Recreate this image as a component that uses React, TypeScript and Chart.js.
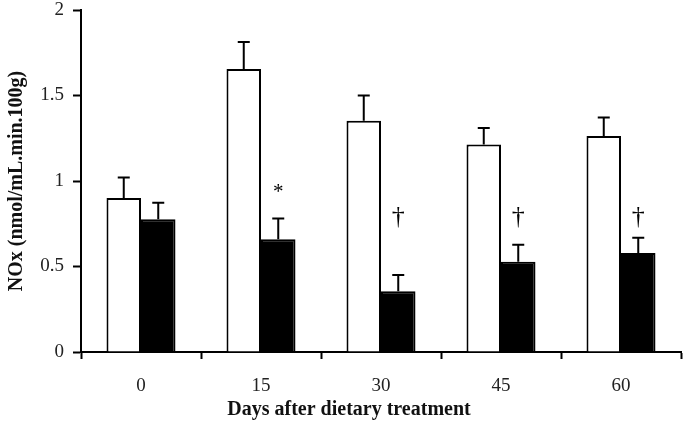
import React, { useEffect, useRef } from "react";
import { Chart, registerables } from "chart.js";

Chart.register(...registerables);

const categories = ["0", "15", "30", "45", "60"];
const controlValues = [0.9, 1.655, 1.353, 1.213, 1.263];
const controlErrors = [0.12, 0.158, 0.147, 0.097, 0.109];
const treatedValues = [0.776, 0.659, 0.355, 0.528, 0.579];
const treatedErrors = [0.097, 0.121, 0.095, 0.099, 0.089];
const treatedMarks = ["", "*", "†", "†", "†"];
const markLevels = [0, 0.93, 0.79, 0.79, 0.79];
const yTicks = [0, 0.5, 1, 1.5, 2];

const yTitle = "NOx (nmol/mL.min.100g)";
const xTitle = "Days after dietary treatment";

const errors = [controlErrors, treatedErrors];
const SERIF = "'Liberation Serif', 'Times New Roman', serif";

const errorBarPlugin = {
  id: "errorBars",
  afterDatasetsDraw(chart: any) {
    const ctx = chart.ctx;
    const y = chart.scales.y;
    ctx.save();
    ctx.strokeStyle = "#000";
    ctx.lineWidth = 2;
    chart.data.datasets.forEach((ds: any, di: number) => {
      const meta = chart.getDatasetMeta(di);
      meta.data.forEach((bar: any, i: number) => {
        const top = y.getPixelForValue(ds.data[i] + errors[di][i]);
        ctx.beginPath();
        ctx.moveTo(bar.x, bar.y);
        ctx.lineTo(bar.x, top);
        ctx.moveTo(bar.x - 6, top);
        ctx.lineTo(bar.x + 6, top);
        ctx.stroke();
      });
    });
    const meta = chart.getDatasetMeta(1);
    ctx.fillStyle = "#000";
    ctx.textAlign = "center";
    ctx.textBaseline = "middle";
    meta.data.forEach((bar: any, i: number) => {
      const mark = treatedMarks[i];
      if (!mark) return;
      ctx.font = `${mark === "*" ? 21 : 26}px ${SERIF}`;
      ctx.fillText(mark, bar.x, y.getPixelForValue(markLevels[i]));
    });
    ctx.restore();
  },
};

const titlePlugin = {
  id: "axisTitles",
  afterDraw(chart: any) {
    const { ctx, chartArea } = chart;
    ctx.save();
    ctx.fillStyle = "#111";
    ctx.font = `bold 20px ${SERIF}`;
    ctx.textAlign = "center";
    ctx.textBaseline = "middle";
    ctx.fillText(xTitle, (chartArea.left + chartArea.right) / 2 - 32, chartArea.bottom + 58);
    ctx.translate(17, (chartArea.top + chartArea.bottom) / 2);
    ctx.rotate(-Math.PI / 2);
    ctx.fillText(yTitle, 0, 0);
    ctx.restore();
  },
};

export default function App() {
  const ref = useRef<HTMLCanvasElement | null>(null);
  useEffect(() => {
    if (!ref.current) return;
    const chart = new Chart(ref.current, {
      type: "bar",
      data: {
        labels: categories,
        datasets: [
          {
            label: "Control",
            data: controlValues,
            backgroundColor: "#ffffff",
            borderColor: "#000000",
            borderWidth: 2,
            categoryPercentage: 0.575,
            barPercentage: 1,
          },
          {
            label: "Treated",
            data: treatedValues,
            backgroundColor: "#000000",
            borderColor: "#000000",
            borderWidth: 2,
            categoryPercentage: 0.575,
            barPercentage: 1,
          },
        ],
      },
      options: {
        animation: false,
        responsive: true,
        maintainAspectRatio: false,
        layout: { padding: { top: 10, right: 4, left: 0, bottom: 0 } },
        plugins: {
          legend: { display: false },
          tooltip: { enabled: false },
        },
        scales: {
          x: {
            offset: true,
            grid: {
              offset: true,
              drawOnChartArea: false,
              drawTicks: true,
              tickLength: 7,
              tickColor: "#000",
              tickWidth: 2,
            },
            border: { display: true, color: "#000", width: 2 },
            ticks: {
              color: "#222",
              font: { family: SERIF, size: 19, lineHeight: 1 },
              padding: 18,
            },
            afterFit: (scale: any) => {
              scale.height = 74;
              scale.paddingLeft = 0;
              scale.paddingRight = 0;
            },
          },
          y: {
            min: 0,
            max: 2,
            afterBuildTicks: (scale: any) => {
              scale.ticks = yTicks.map((v) => ({ value: v }));
            },
            grid: {
              drawOnChartArea: false,
              drawTicks: true,
              tickLength: 8,
              tickColor: "#000",
              tickWidth: 2,
            },
            border: { display: true, color: "#000", width: 2 },
            ticks: {
              color: "#222",
              font: { family: SERIF, size: 19, lineHeight: 1 },
              padding: 9,
              callback: (v: any) => String(v),
            },
            afterFit: (scale: any) => {
              scale.width = 81;
              scale.paddingTop = 0;
              scale.paddingBottom = 0;
            },
          },
        },
      },
      plugins: [errorBarPlugin, titlePlugin],
    });
    return () => chart.destroy();
  }, []);
  return (
    <div style={{ position: "fixed", left: 0, top: 0, width: 685, height: 426, background: "#fff" }}>
      <canvas ref={ref} />
    </div>
  );
}
